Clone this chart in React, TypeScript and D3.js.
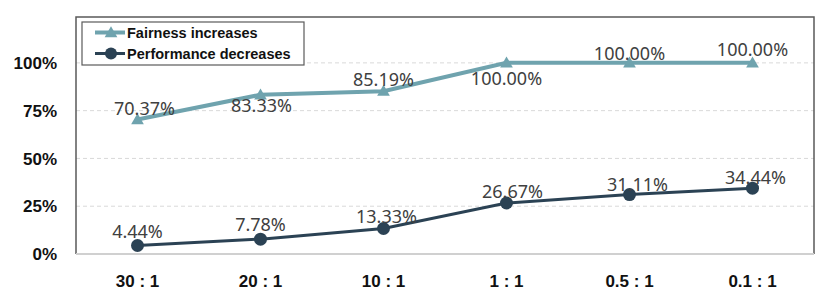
import { useRef, useEffect } from "react";
import * as d3 from "d3";

const categories = ["30 : 1", "20 : 1", "10 : 1", "1 : 1", "0.5 : 1", "0.1 : 1"];
const fairness = [0.7037, 0.8333, 0.8519, 1.0, 1.0, 1.0];
const performance = [0.0444, 0.0778, 0.1333, 0.2667, 0.3111, 0.3444];
const yTicks = [0, 0.25, 0.5, 0.75, 1.0];
const seriesNames = ["Fairness increases", "Performance decreases"];

// label nudges (px) relative to each marker, as placed in the original
const fairLabelOffset = [[7, -5], [1, 17], [0, -5], [0, 22], [0, -3], [0, -7]];
const perfLabelOffset = [[0, -8], [0, -8], [3, -6], [6, -5], [8, -4], [3, -4]];

const W = 830;
const H = 291;
const FAIR = "#6fa3ae";
const PERF = "#2b4254";

function LineChart() {
  const svgRef = useRef<SVGSVGElement>(null);

  useEffect(() => {
    drawChart();
  }, []);

  function drawChart() {
    if (!svgRef.current) return;
    const svg = d3.select(svgRef.current);
    svg.selectAll("*").remove();

    const left = 76;
    const right = 814;
    const top = 17;
    const bottom = 254;

    const x = d3.scaleBand().domain(categories).range([left, right]);
    const y = d3.scaleLinear().domain([0, 1.24]).range([bottom, top]);
    const cx = (c: string) => (x(c) ?? 0) + x.bandwidth() / 2;

    // gridlines
    svg
      .append("g")
      .selectAll("line")
      .data(yTicks.filter((t) => t > 0))
      .join("line")
      .attr("x1", left)
      .attr("x2", right)
      .attr("y1", (d) => y(d))
      .attr("y2", (d) => y(d))
      .attr("stroke", "#d9d9d9")
      .attr("stroke-width", 1)
      .attr("stroke-dasharray", "4,3");

    // frame
    svg
      .append("path")
      .attr("d", `M${left},${bottom} V${top} H${right} V${bottom}`)
      .attr("fill", "none")
      .attr("stroke", "#5a5a5a")
      .attr("stroke-width", 1.5);
    svg
      .append("line")
      .attr("x1", left)
      .attr("x2", right)
      .attr("y1", bottom)
      .attr("y2", bottom)
      .attr("stroke", "#d0d0d0")
      .attr("stroke-width", 2);

    // y tick labels
    svg
      .append("g")
      .selectAll("text")
      .data(yTicks)
      .join("text")
      .attr("x", 57)
      .attr("y", (d) => y(d))
      .attr("dy", "0.36em")
      .attr("text-anchor", "end")
      .attr("font-family", "'Liberation Sans', Arial, sans-serif")
      .attr("font-weight", "bold")
      .attr("font-size", "17px")
      .attr("fill", "#111")
      .text((d) => d3.format(".0%")(d));

    // x tick labels
    svg
      .append("g")
      .selectAll("text")
      .data(categories)
      .join("text")
      .attr("x", (d) => cx(d))
      .attr("y", 287)
      .attr("text-anchor", "middle")
      .attr("font-family", "'Liberation Sans', Arial, sans-serif")
      .attr("font-weight", "bold")
      .attr("font-size", "17px")
      .attr("fill", "#111")
      .style("white-space", "pre")
      .text((d) => d);

    const line = d3
      .line<number>()
      .x((_, i) => cx(categories[i]))
      .y((d) => y(d));

    const tri = d3.symbol().type(d3.symbolTriangle).size(70);

    // fairness
    svg
      .append("path")
      .datum(fairness)
      .attr("d", line)
      .attr("fill", "none")
      .attr("stroke", FAIR)
      .attr("stroke-width", 4);
    svg
      .append("g")
      .selectAll("path")
      .data(fairness)
      .join("path")
      .attr("d", tri)
      .attr("transform", (d, i) => `translate(${cx(categories[i])},${y(d) + 1})`)
      .attr("fill", FAIR);

    // performance
    svg
      .append("path")
      .datum(performance)
      .attr("d", line)
      .attr("fill", "none")
      .attr("stroke", PERF)
      .attr("stroke-width", 3);
    svg
      .append("g")
      .selectAll("circle")
      .data(performance)
      .join("circle")
      .attr("cx", (_, i) => cx(categories[i]))
      .attr("cy", (d) => y(d))
      .attr("r", 6.5)
      .attr("fill", PERF);

    // data labels
    const labelFmt = d3.format(".2%");
    const addLabels = (data: number[], offs: number[][]) =>
      svg
        .append("g")
        .selectAll("text")
        .data(data)
        .join("text")
        .attr("x", (_, i) => cx(categories[i]) + offs[i][0])
        .attr("y", (d, i) => y(d) + offs[i][1])
        .attr("text-anchor", "middle")
        .attr("font-family", "'Noto Sans', sans-serif")
        .attr("font-size", "18px")
        .attr("fill", "#404040")
        .text((d) => labelFmt(d));
    addLabels(fairness, fairLabelOffset);
    addLabels(performance, perfLabelOffset);

    // legend
    const lg = svg.append("g").attr("transform", "translate(82,22)");
    lg.append("rect")
      .attr("width", 222)
      .attr("height", 43)
      .attr("fill", "white")
      .attr("stroke", "#5a5a5a")
      .attr("stroke-width", 1.2);
    const colors = [FAIR, PERF];
    seriesNames.forEach((name, i) => {
      const ry = 10.5 + i * 21;
      const row = lg.append("g").attr("transform", `translate(0,${ry})`);
      row
        .append("line")
        .attr("x1", 13)
        .attr("x2", 43)
        .attr("stroke", colors[i])
        .attr("stroke-width", i === 0 ? 4 : 3);
      if (i === 0) {
        row.append("path").attr("d", tri).attr("transform", "translate(29,1)").attr("fill", colors[i]);
      } else {
        row.append("circle").attr("cx", 29).attr("r", 6).attr("fill", colors[i]);
      }
      row
        .append("text")
        .attr("x", 45)
        .attr("dy", "0.36em")
        .attr("font-family", "'Liberation Sans', Arial, sans-serif")
        .attr("font-weight", "bold")
        .attr("font-size", "14.5px")
        .attr("fill", "#111")
        .text(name);
    });
  }

  return <svg ref={svgRef} width={W} height={H} style={{ display: "block" }} />;
}

export default function App() {
  return (
    <div style={{ position: "fixed", top: 0, left: 0, width: W, height: H, background: "white" }}>
      <LineChart />
    </div>
  );
}
